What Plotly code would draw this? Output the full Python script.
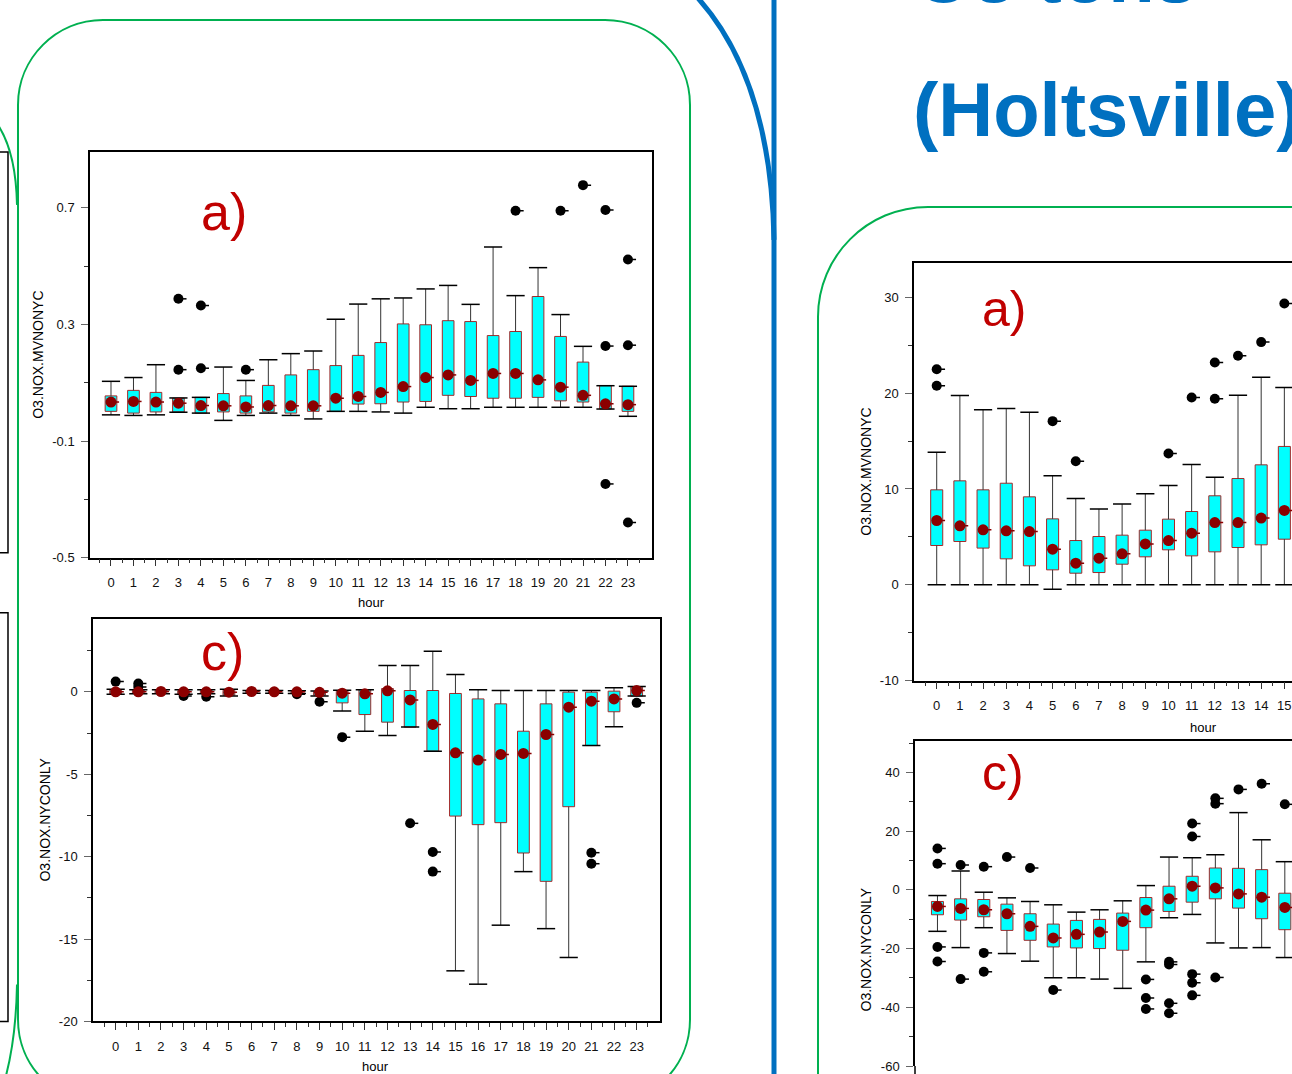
import plotly.graph_objects as go

W, H = 1292, 1074
# vertical pixel scale used when placing items in paper coordinates
H_PX = 1066.6


def px(x):
    return x / W


def py(y):
    return 1 - y / H_PX


HOURS = list(range(24))
HOURS_R = list(range(16))

# ---- Left a): O3.NOX.MVNONYC by hour ----
LA_Q1 = [0.002, -0.004, 0.0, 0.0, -0.004, 0.0, -0.004, 0.0, -0.004, 0.002, 0.002, 0.027,
         0.028, 0.034, 0.036, 0.057, 0.053, 0.047, 0.047, 0.050, 0.038, 0.034, 0.010, 0.002]
LA_Q3 = [0.055, 0.074, 0.067, 0.047, 0.050, 0.063, 0.055, 0.091, 0.127, 0.145, 0.159, 0.194,
         0.238, 0.302, 0.299, 0.313, 0.310, 0.262, 0.276, 0.396, 0.259, 0.171, 0.090, 0.088]
LA_LO = [-0.010, -0.012, -0.010, -0.001, -0.004, -0.029, -0.012, -0.004, -0.012, -0.024, 0.002, 0.002,
         0.000, -0.004, 0.016, 0.011, 0.011, 0.016, 0.016, 0.016, 0.016, 0.016, 0.010, -0.015]
LA_HI = [0.105, 0.118, 0.162, 0.048, 0.050, 0.154, 0.108, 0.179, 0.200, 0.209, 0.318, 0.370,
         0.388, 0.391, 0.422, 0.434, 0.369, 0.566, 0.399, 0.495, 0.334, 0.225, 0.090, 0.088]
LA_MEAN = [0.034, 0.036, 0.034, 0.030, 0.022, 0.021, 0.017, 0.022, 0.021, 0.021, 0.047, 0.053,
           0.067, 0.087, 0.118, 0.127, 0.108, 0.132, 0.132, 0.110, 0.085, 0.057, 0.028, 0.025]
LA_OUT_X = [3, 3, 4, 4, 6, 18, 20, 21, 22, 22, 22, 23, 23, 23]
LA_OUT_Y = [0.388, 0.145, 0.365, 0.150, 0.145, 0.690, 0.690, 0.778, 0.693, 0.226, -0.247, 0.523, 0.229, -0.379]

# ---- Left c): O3.NOX.NYCONLY by hour ----
LC_Q1 = [-0.12, -0.1, -0.1, -0.12, -0.1, -0.2, -0.05, -0.05, -0.08, -0.2, -0.67, -1.38,
         -1.84, -2.14, -3.6, -7.54, -8.06, -7.94, -9.78, -11.5, -6.97, -3.26, -1.21, -0.26]
LC_Q3 = [0.1, 0.1, 0.1, 0.06, 0.08, 0.1, 0.05, 0.05, 0.03, 0.02, 0.04, 0.12,
         0.2, 0.08, 0.08, -0.1, -0.43, -0.73, -2.39, -0.73, -0.02, -0.02, 0.04, 0.28]
LC_LO = [-0.15, -0.12, -0.12, -0.15, -0.12, -0.25, -0.08, -0.08, -0.1, -0.25, -1.17, -2.39,
         -2.65, -2.14, -3.6, -16.93, -17.74, -14.16, -10.91, -14.37, -16.12, -3.26, -2.12, -0.26]
LC_HI = [0.15, 0.12, 0.12, 0.12, 0.12, 0.15, 0.08, 0.08, 0.06, 0.05, 0.1, 0.12,
         1.59, 1.59, 2.46, 1.05, 0.12, 0.08, 0.08, 0.08, 0.08, 0.08, 0.24, 0.32]
LC_MEAN = [0.0, 0.0, 0.02, 0.0, 0.0, -0.02, 0.02, 0.0, 0.0, -0.03, -0.08, -0.12,
           0.06, -0.49, -1.98, -3.70, -4.14, -3.80, -3.74, -2.59, -0.93, -0.57, -0.43, 0.08]
LC_OUT_X = [0, 1, 1, 3, 4, 8, 9, 10, 13, 14, 14, 21, 21, 23]
LC_OUT_Y = [0.62, 0.5, 0.3, -0.25, -0.3, -0.15, -0.6, -2.75, -7.98, -9.72, -10.91, -9.76, -10.43, -0.67]

# ---- Right a): O3.NOX.MVNONYC (Holtsville) ----
RA_Q1 = [4.10, 4.52, 3.83, 2.71, 1.98, 1.56, 1.21, 1.28, 2.15, 2.92, 3.65, 3.02, 3.44, 3.89, 4.17, 4.76]
RA_Q3 = [9.91, 10.85, 9.91, 10.6, 9.18, 6.88, 4.62, 5.04, 5.18, 5.7, 6.85, 7.65, 9.29, 11.09, 12.52, 14.44]
RA_LO = [0, 0, 0, 0, 0, -0.46, 0, 0, 0, 0, 0, 0, 0, 0, 0, 0]
RA_HI = [13.84, 19.76, 18.26, 18.4, 18.02, 11.37, 9.01, 7.9, 8.42, 9.5, 10.36, 12.56, 11.23, 19.79, 21.67, 20.59]
RA_MEAN = [6.71, 6.15, 5.74, 5.63, 5.56, 3.72, 2.26, 2.78, 3.23, 4.27, 4.62, 5.39, 6.5, 6.5, 6.96, 7.76]
RA_OUT_X = [0, 0, 5, 6, 10, 11, 12, 12, 13, 14, 15]
RA_OUT_Y = [22.5, 20.77, 17.08, 12.9, 13.7, 19.55, 23.2, 19.41, 23.9, 25.33, 29.36]

# ---- Right c): O3.NOX.NYCONLY (Holtsville) ----
RC_Q1 = [-8.47, -10.28, -9.15, -13.8, -17.17, -19.43, -19.77, -19.99, -20.56, -12.88, -7.34, -4.18, -3.05, -6.21, -9.83, -13.56]
RC_Q3 = [-3.95, -3.05, -3.27, -4.86, -8.13, -11.64, -10.39, -10.05, -7.9, -2.6, 1.25, 4.64, 7.46, 7.35, 6.9, -1.13]
RC_LO = [-14.12, -19.66, -12.88, -21.69, -24.29, -29.94, -29.94, -30.39, -33.55, -24.52, -9.49, -8.36, -18.07, -19.77, -19.66, -23.05]
RC_HI = [-1.92, 6.44, -0.79, -2.71, -3.95, -5.08, -7.57, -6.78, -3.72, 1.47, 11.19, 10.96, 11.98, 26.33, 17.07, 9.61]
RC_MEAN = [-5.64, -6.32, -6.77, -8.13, -12.43, -16.38, -15.14, -14.35, -10.73, -6.89, -3.05, 1.25, 0.68, -1.36, -2.49, -5.99]
RC_OUT_X = [0, 0, 0, 0, 1, 1, 2, 2, 2, 3, 4, 5, 9, 9, 9, 10, 10, 10, 10, 11, 11, 11, 11, 11, 12, 12, 12, 13, 14, 15]
RC_OUT_Y = [14.13, 8.93, -19.43, -24.4, 8.48, -30.4, 7.91, -21.46, -27.9, 11.19, 7.46, -34.12, -30.5, -36.83,
            -40.56, -24.52, -25.42, -38.64, -42.03, 22.6, 18.2, -28.7, -31.63, -35.93, 31.19, 29.38, -29.83,
            34.24, 36.16, 29.15]

FONT = "Liberation Sans, Arial, sans-serif"
CYAN = "#00FFFF"
BOX_EDGE = "#A52A2A"
MEAN_COLOR = "#8B0000"
LABEL_RED = "#C00000"
BLUE = "#0070C0"
GREEN = "#00B050"

fig = go.Figure()


def ticks_right(xs, ys, length):
    # short horizontal strokes running to the right of each point
    lx, ly = [], []
    for x, y in zip(xs, ys):
        lx += [x, x + length, None]
        ly += [y, y, None]
    return lx, ly


def add_panel(xr, yr, hours, q1, q3, lo, hi, mean, out_x, out_y, box_w=0.52, cap=13):
    # interquartile box
    fig.add_trace(go.Bar(
        x=hours, y=[b - a for a, b in zip(q1, q3)], base=q1, width=box_w,
        marker=dict(color=CYAN, line=dict(color=BOX_EDGE, width=1)),
        xaxis=xr, yaxis=yr, hoverinfo="skip"))
    # whiskers
    wx, wy = [], []
    for h, a, b, l, u in zip(hours, q1, q3, lo, hi):
        wx += [h, h, None, h, h, None]
        wy += [l, a, None, b, u, None]
    fig.add_trace(go.Scatter(x=wx, y=wy, mode="lines", line=dict(color="#333333", width=1),
                             xaxis=xr, yaxis=yr, hoverinfo="skip"))
    # whisker caps
    fig.add_trace(go.Scatter(
        x=list(hours) + list(hours), y=list(lo) + list(hi), mode="markers",
        marker=dict(symbol="line-ew", size=cap, line=dict(color="black", width=1.5)),
        xaxis=xr, yaxis=yr, hoverinfo="skip"))
    # outliers with their small tail
    tx, ty = ticks_right(out_x, out_y, 0.36)
    fig.add_trace(go.Scatter(x=tx, y=ty, mode="lines", line=dict(color="black", width=1.5),
                             xaxis=xr, yaxis=yr, hoverinfo="skip"))
    fig.add_trace(go.Scatter(x=out_x, y=out_y, mode="markers",
                             marker=dict(symbol="circle", size=10, color="black"),
                             xaxis=xr, yaxis=yr, hoverinfo="skip"))
    # means with their dash
    mx, my = ticks_right(hours, mean, 0.36)
    fig.add_trace(go.Scatter(x=mx, y=my, mode="lines", line=dict(color=MEAN_COLOR, width=1.5),
                             xaxis=xr, yaxis=yr, hoverinfo="skip"))
    fig.add_trace(go.Scatter(x=hours, y=mean, mode="markers",
                             marker=dict(symbol="circle", size=11, color=MEAN_COLOR),
                             xaxis=xr, yaxis=yr, hoverinfo="skip"))


add_panel("x", "y", HOURS, LA_Q1, LA_Q3, LA_LO, LA_HI, LA_MEAN, LA_OUT_X, LA_OUT_Y)
add_panel("x2", "y2", HOURS, LC_Q1, LC_Q3, LC_LO, LC_HI, LC_MEAN, LC_OUT_X, LC_OUT_Y)
add_panel("x3", "y3", HOURS_R, RA_Q1, RA_Q3, RA_LO, RA_HI, RA_MEAN, RA_OUT_X, RA_OUT_Y)
add_panel("x4", "y4", HOURS_R, RC_Q1, RC_Q3, RC_LO, RC_HI, RC_MEAN, RC_OUT_X, RC_OUT_Y)

tick_font = dict(family=FONT, size=13, color="#111111")


def xaxis_cfg(domain, rng, anchor, hours, mirror=True, show_labels=True, side="bottom"):
    return dict(
        domain=domain, range=rng, anchor=anchor, side=side,
        tickmode="array", tickvals=hours, ticktext=[str(h) for h in hours],
        ticks="outside" if show_labels else "", ticklen=7, tickwidth=1, tickcolor="#333333",
        showticklabels=show_labels, tickfont=tick_font, ticklabelstandoff=5,
        minor=dict(tickmode="array", tickvals=[h - 0.5 for h in hours] + [hours[-1] + 0.5],
                   ticks="outside" if show_labels else "", ticklen=4, tickcolor="#333333"),
        showline=True, linecolor="black", linewidth=1.5, mirror=mirror,
        showgrid=False, zeroline=False, fixedrange=True)


def yaxis_cfg(domain, rng, anchor, vals, minor_vals, mirror=True):
    return dict(
        domain=domain, range=rng, anchor=anchor,
        tickmode="array", tickvals=vals, ticktext=[("%g" % v) for v in vals],
        ticks="outside", ticklen=7, tickwidth=1, tickcolor="#666666",
        tickfont=tick_font, ticklabelstandoff=4,
        minor=dict(tickmode="array", tickvals=minor_vals, ticks="outside", ticklen=4, tickcolor="#333333"),
        showline=True, linecolor="black", linewidth=1.5, mirror=mirror,
        showgrid=False, zeroline=False, fixedrange=True)


fig.update_layout(
    width=W, height=H, margin=dict(l=0, r=0, t=0, b=0),
    paper_bgcolor="white", plot_bgcolor="white", showlegend=False,
    barmode="overlay", font=dict(family=FONT, color="black"),
    xaxis=xaxis_cfg([px(90), px(652)], [-0.934, 24.07], "y", HOURS),
    yaxis=yaxis_cfg([py(558), py(152)], [-0.5, 0.892], "x", [-0.5, -0.1, 0.3, 0.7], [-0.3, 0.1, 0.5]),
    xaxis2=xaxis_cfg([px(93), px(660)], [-1.0, 24.03], "y2", HOURS),
    yaxis2=yaxis_cfg([py(1022), py(619)], [-20, 4.44], "x2", [-20, -15, -10, -5, 0],
                     [-17.5, -12.5, -7.5, -2.5, 2.5]),
    xaxis3=xaxis_cfg([px(914), 1.0], [-0.98, 15.33], "y3", HOURS_R),
    yaxis3=yaxis_cfg([py(681), py(263)], [-10, 33.6], "x3", [-10, 0, 10, 20, 30], [-5, 5, 15, 25],
                     mirror=False),
    xaxis4=xaxis_cfg([px(915), 1.0], [-0.97, 15.31], "y4", HOURS_R, mirror=False, show_labels=False,
                     side="top"),
    yaxis4=yaxis_cfg([0.0, py(741.5)], [-60.0, 50.7], "x4", [-60, -40, -20, 0, 20, 40],
                     [-50, -30, -10, 10, 30, 50], mirror=False),
)

annotations = []


def note(text, x, y, size, color="black", angle=0, xanchor="center", bold=False):
    annotations.append(dict(
        text=f"<b>{text}</b>" if bold else text, x=px(x), y=py(y), xref="paper", yref="paper",
        xanchor=xanchor, yanchor="middle", showarrow=False, textangle=angle,
        font=dict(family=FONT, size=size, color=color)))


# axis titles
note("hour", 371, 603, 13)
note("hour", 376, 1067, 13)
note("hour", 1203, 728, 13)
note("O3.NOX.MVNONYC", 38, 355, 14, angle=-90)
note("O3.NOX.NYCONLY", 45, 820, 14, angle=-90)
note("O3.NOX.MVNONYC", 866, 472, 14, angle=-90)
note("O3.NOX.NYCONLY", 866, 950, 14, angle=-90)

# panel letters
note("a)", 199, 212, 52, color=LABEL_RED, xanchor="left")
note("c)", 199, 652, 52, color=LABEL_RED, xanchor="left")
note("a)", 980, 309, 50, color=LABEL_RED, xanchor="left")
note("c)", 980, 773, 50, color=LABEL_RED, xanchor="left")

# site heading
note("O3 tons", 912, -25, 76, color=BLUE, xanchor="left", bold=True)
note("(Holtsville)", 911, 110, 76, color=BLUE, xanchor="left", bold=True)

fig.update_layout(annotations=annotations)


def P(pts):
    # build an SVG path in paper coordinates from pixel points/commands
    out = []
    for item in pts:
        if isinstance(item, str):
            out.append(item)
        else:
            out.append(f"{px(item[0]):.5f},{py(item[1]):.5f}")
    return " ".join(out)


shapes = []
k = 0.5523
r = 85
# left poster panel (green rounded frame)
shapes.append(dict(type="path", xref="paper", yref="paper", line=dict(color=GREEN, width=2),
                   path=P(["M", (18, 20 + r), "L", (18, 1105 - r),
                           "C", (18, 1105 - r + k * r), (18 + r - k * r, 1105), (18 + r, 1105),
                           "L", (690 - r, 1105),
                           "C", (690 - r + k * r, 1105), (690, 1105 - r + k * r), (690, 1105 - r),
                           "L", (690, 20 + r),
                           "C", (690, 20 + r - k * r), (690 - r + k * r, 20), (690 - r, 20),
                           "L", (18 + r, 20),
                           "C", (18 + r - k * r, 20), (18, 20 + r - k * r), (18, 20 + r), "Z"])))
# neighbouring frame edges at the far left
shapes.append(dict(type="path", xref="paper", yref="paper", line=dict(color=GREEN, width=2),
                   path=P(["M", (-4, 122), "Q", (16, 150), (17, 205)])))
shapes.append(dict(type="path", xref="paper", yref="paper", line=dict(color=GREEN, width=2),
                   path=P(["M", (17, 985), "Q", (16, 1040), (5, 1080)])))
shapes.append(dict(type="path", xref="paper", yref="paper", line=dict(color="black", width=1.5),
                   path=P(["M", (-2, 152), "L", (8, 152), "L", (8, 553), "L", (-2, 553)])))
shapes.append(dict(type="path", xref="paper", yref="paper", line=dict(color="black", width=1.5),
                   path=P(["M", (-2, 613), "L", (8, 613), "L", (8, 1022), "L", (-2, 1022)])))
# right poster panel (green rounded frame)
r2 = 110
shapes.append(dict(type="path", xref="paper", yref="paper", line=dict(color=GREEN, width=2),
                   path=P(["M", (818, 1090), "L", (818, 207 + r2),
                           "C", (818, 207 + r2 - k * r2), (818 + r2 - k * r2, 207), (818 + r2, 207),
                           "L", (1300, 207)])))
# left edge of the lower right plot continues to the bottom of the page
shapes.append(dict(type="line", xref="paper", yref="paper", x0=px(915), x1=px(915),
                   y0=0, y1=py(1090), line=dict(color="black", width=1.5)))
# blue column divider
shapes.append(dict(type="path", xref="paper", yref="paper", line=dict(color=BLUE, width=5),
                   path=P(["M", (774, -5), "L", (774, 1090)])))
shapes.append(dict(type="path", xref="paper", yref="paper", line=dict(color=BLUE, width=5),
                   path=P(["M", (697, -3), "C", (745, 50), (772, 130), (774, 240)])))

fig.update_layout(shapes=shapes)

fig.write_html("out.html")
